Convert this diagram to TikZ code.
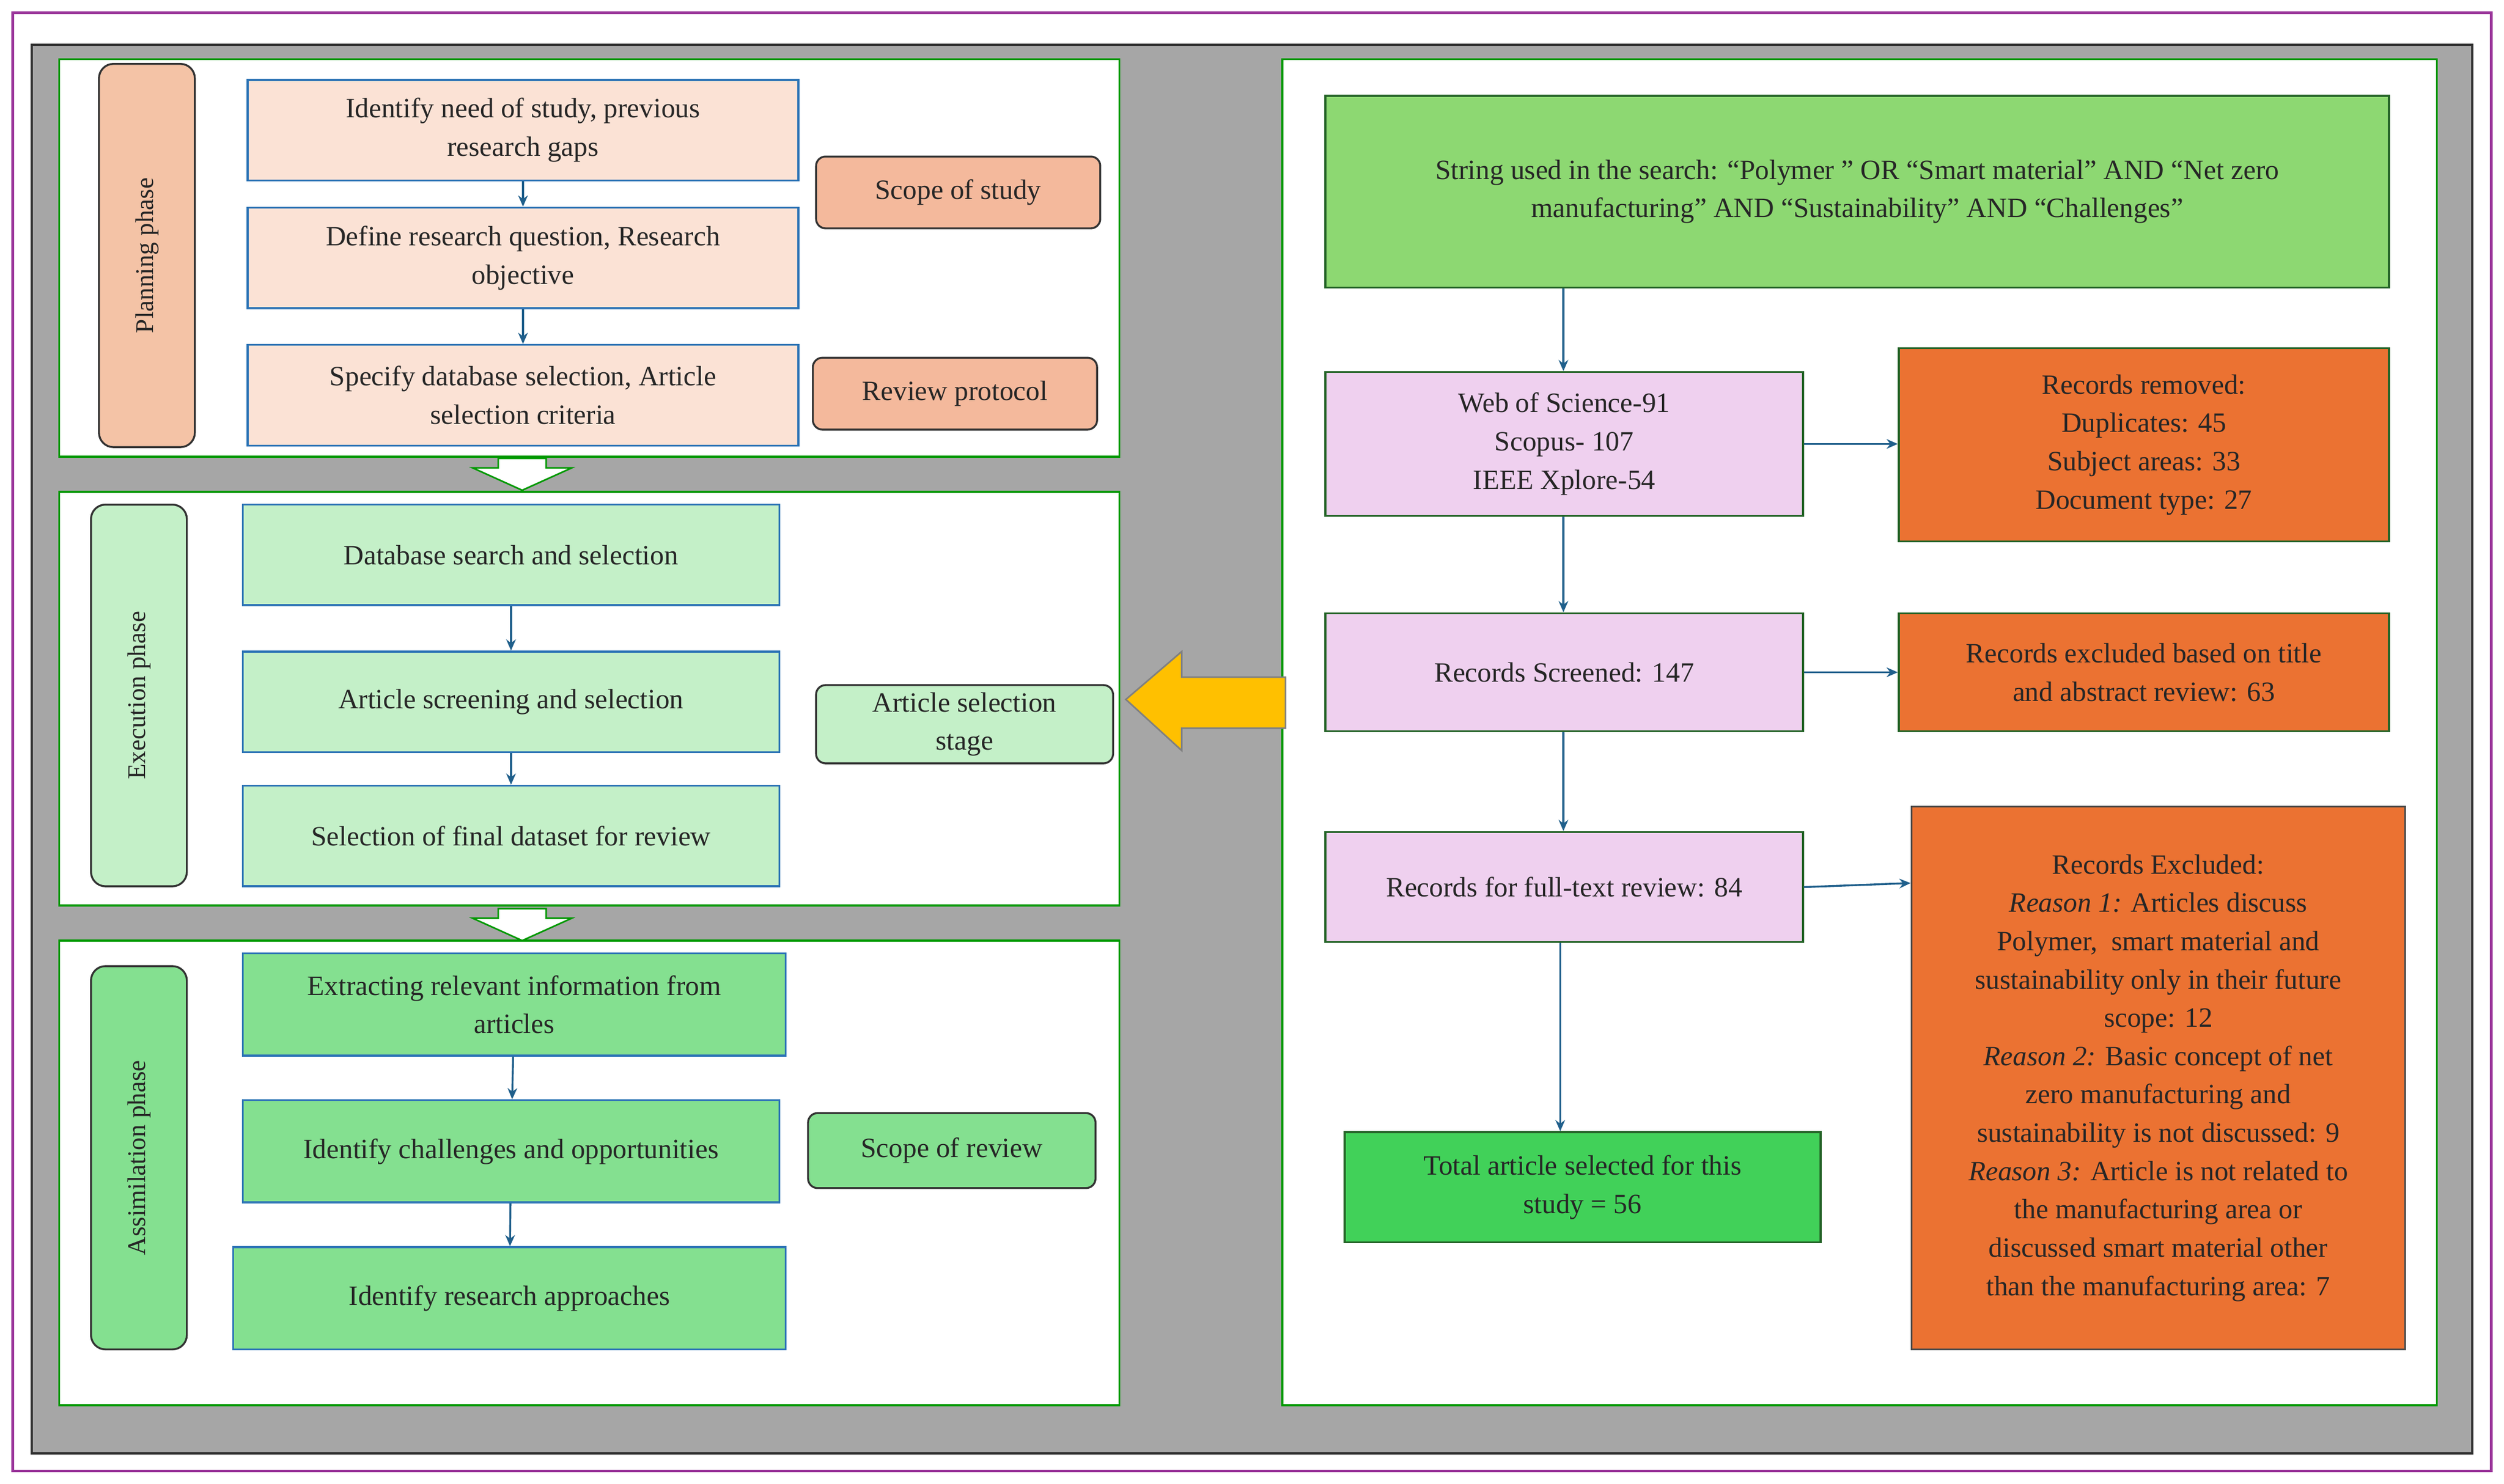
\documentclass[tikz,border=0pt]{standalone}
\usepackage{fontspec}
\setmainfont{Liberation Serif}
\usetikzlibrary{arrows.meta,shapes.arrows}
\definecolor{ared}{HTML}{1F5F8B}
\definecolor{bblue}{HTML}{2E75B6}
\definecolor{dgreen}{HTML}{2E7D32}
\definecolor{salm}{HTML}{F4C3A6}
\definecolor{salmL}{HTML}{FBE2D5}
\definecolor{salmT}{HTML}{F4B99C}
\definecolor{lgr}{HTML}{C4F0C8}
\definecolor{mgr}{HTML}{84E090}
\definecolor{sgr}{HTML}{8DD872}
\definecolor{pnk}{HTML}{EFD0EF}
\definecolor{org}{HTML}{EB7232}
\definecolor{tgr}{HTML}{41D159}
\definecolor{yel}{HTML}{FFC000}
\newcommand{\bx}[7]{\node[#2,minimum width={(#5-#3)*1pt},minimum height={(#6-#4)*1pt}] (#1) at ({(#3+#5)/2},{(#4+#6)/2}) {#7};}
\begin{document}
\begin{tikzpicture}[x=1pt,y=-1pt,
  every node/.style={font=\fontsize{17.5}{24}\selectfont,align=center,inner sep=2pt,text=black!85},
  base/.style={draw,line width=1.2pt},
  lbox/.style={base,draw=bblue},
  tag/.style={base,draw=black!80,rounded corners=6pt},
  rbox/.style={base,draw=dgreen!80!black},
  ph/.style={tag,rounded corners=9pt},
  arr/.style={draw=ared,line width=1.2pt,-{Stealth[length=7pt,width=6pt]}}]
\useasboundingbox (0,0) rectangle (1568,929);
\fill[white] (0,0) rectangle (1568,929);
\draw[violet!80,line width=1.5pt] (8,8) rectangle (1560,921);
\draw[fill=black!35,draw=black!80,line width=1.5pt] (20,28) rectangle (1548,910);
\foreach \a/\b/\c/\d in {37/37/701/286,37/308/701/567,37/589/701/880,803/37/1526/880}
  \draw[fill=white,draw=green!60!black,line width=1.2pt] (\a,\b) rectangle (\c,\d);
% planning
\bx{pp}{ph,fill=salm}{62}{40}{122}{280}{}
\node[rotate=90,font=\fontsize{16}{20}\selectfont] at (pp) {Planning phase};
\bx{p1}{lbox,fill=salmL}{155}{50}{500}{113}{Identify need of study, previous\\research gaps}
\bx{p2}{lbox,fill=salmL}{155}{130}{500}{193}{Define research question, Research\\objective}
\bx{p3}{lbox,fill=salmL}{155}{216}{500}{279}{Specify database selection, Article\\selection criteria}
\bx{s1}{tag,fill=salmT}{511}{98}{689}{143}{Scope of study}
\bx{s2}{tag,fill=salmT}{509}{224}{687}{269}{Review protocol}
\draw[arr] (p1) -- (p2); \draw[arr] (p2) -- (p3);
% execution
\bx{ep}{ph,fill=lgr}{57}{316}{117}{555}{}
\node[rotate=90,font=\fontsize{16}{20}\selectfont] at (ep) {Execution phase};
\bx{e1}{lbox,fill=lgr}{152}{316}{488}{379}{Database search and selection}
\bx{e2}{lbox,fill=lgr}{152}{408}{488}{471}{Article screening and selection}
\bx{e3}{lbox,fill=lgr}{152}{492}{488}{555}{Selection of final dataset for review}
\bx{s3}{tag,fill=lgr}{511}{429}{697}{478}{Article selection\\stage}
\draw[arr] (e1) -- (e2); \draw[arr] (e2) -- (e3);
% assimilation
\bx{ap}{ph,fill=mgr}{57}{605}{117}{845}{}
\node[rotate=90,font=\fontsize{16}{20}\selectfont] at (ap) {Assimilation phase};
\bx{a1}{lbox,fill=mgr}{152}{597}{492}{661}{Extracting relevant information from\\articles}
\bx{a2}{lbox,fill=mgr}{152}{689}{488}{753}{Identify challenges and opportunities}
\bx{a3}{lbox,fill=mgr}{146}{781}{492}{845}{Identify research approaches}
\bx{s4}{tag,fill=mgr}{506}{697}{686}{744}{Scope of review}
\draw[arr] (a1) -- (a2); \draw[arr] (a2) -- (a3);
% white down arrows
\foreach \y in {287,569}
  \draw[fill=white,draw=green!60!black,line width=1pt] (312,\y) -- (342,\y) -- (342,\y+6) -- (358,\y+6) -- (327,\y+20) -- (296,\y+6) -- (312,\y+6) -- cycle;
% yellow arrow
\draw[fill=yel,draw=black!50,line width=1pt] (805,424) -- (740,424) -- (740,408) -- (705,438) -- (740,470) -- (740,456) -- (805,456) -- cycle;
% right side
\bx{r0}{rbox,fill=sgr}{830}{60}{1496}{180}{String used in the search: “Polymer ” OR  “Smart material” AND “Net zero\\manufacturing” AND “Sustainability” AND “Challenges”}
\bx{r1}{rbox,fill=pnk}{830}{233}{1129}{323}{Web of Science-91\\Scopus- 107\\IEEE Xplore-54}
\bx{r2}{rbox,fill=org}{1189}{218}{1496}{339}{Records removed:\\Duplicates: 45\\Subject areas: 33\\Document type: 27}
\bx{r3}{rbox,fill=pnk}{830}{384}{1129}{458}{Records Screened: 147}
\bx{r4}{rbox,fill=org}{1189}{384}{1496}{458}{Records excluded based on title\\and abstract review: 63}
\bx{r5}{rbox,fill=pnk}{830}{521}{1129}{590}{Records for full-text review: 84}
\bx{r6}{rbox,draw=black!70,fill=org}{1197}{505}{1506}{845}{Records Excluded:\\\textit{Reason 1:} Articles discuss\\Polymer,~ smart material and\\sustainability only in their future\\scope: 12\\\textit{Reason 2:} Basic concept of net\\zero manufacturing and\\sustainability is not discussed: 9\\\textit{Reason 3:} Article is not related to\\the manufacturing area or\\discussed smart material other\\than the manufacturing area: 7}
\bx{r7}{rbox,fill=tgr}{842}{709}{1140}{778}{Total article selected for this\\study = 56}
\draw[arr] (r0.south -| 979,0) -- (r1.north -| 979,0);
\draw[arr] (r1.east) -- (r2.west |- r1.east);
\draw[arr] (r1.south -| 979,0) -- (r3.north -| 979,0);
\draw[arr] (r3.east) -- (r4.west);
\draw[arr] (r3.south -| 979,0) -- (r5.north -| 979,0);
\draw[arr] (r5.east) -- (r6.west |- 0,553);
\draw[arr] (r5.south -| 977,0) -- (r7.north -| 977,0);
\end{tikzpicture}
\end{document}
